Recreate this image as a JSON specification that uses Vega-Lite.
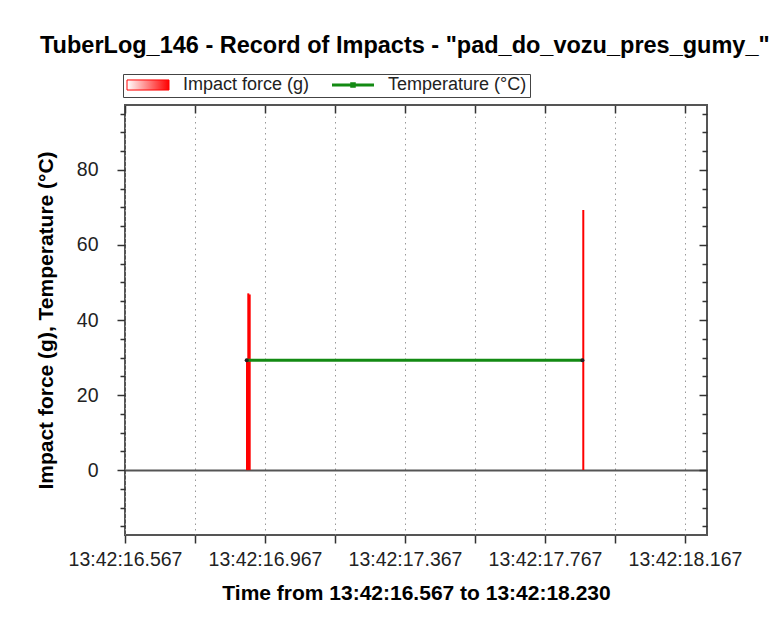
{
  "$schema": "https://vega.github.io/schema/vega-lite/v6.json",
  "width": 582,
  "height": 430,
  "autosize": {"type": "none"},
  "padding": {"left": 125, "top": 105, "right": 72, "bottom": 91},
  "background": "white",
  "title": {
    "text": "TuberLog_146 - Record of Impacts - \"pad_do_vozu_pres_gumy_\"",
    "anchor": "start",
    "frame": "group",
    "dx": -85,
    "font": "Liberation Sans",
    "fontSize": 23.5,
    "fontWeight": "bold",
    "color": "#000000",
    "offset": 16
  },
  "config": {
    "view": {"stroke": "#555555", "strokeWidth": 2},
    "axis": {"domain": false, "tickColor": "#333333", "tickWidth": 1.5}
  },
  "datasets": {
    "impacts": [
      {"time": 16.9156, "force": 29.5, "series": "Impact force (g)"},
      {"time": 16.9193, "force": 47.1, "series": "Impact force (g)"},
      {"time": 16.9233, "force": 46.8, "series": "Impact force (g)"},
      {"time": 17.8765, "force": 69.3, "series": "Impact force (g)"}
    ],
    "temperature": [
      {"time": 16.9147, "temp": 29.3, "series": "Temperature (°C)"},
      {"time": 17.874, "temp": 29.3, "series": "Temperature (°C)"}
    ]
  },
  "resolve": {"axis": {"x": "independent", "y": "independent"}},
  "layer": [
    {
      "data": {"name": "impacts"},
      "mark": {"type": "rule", "strokeWidth": 2},
      "encoding": {
        "x": {
          "field": "time",
          "type": "quantitative",
          "scale": {"domain": [16.567, 18.23], "nice": false, "zero": false},
          "axis": {
            "orient": "bottom",
            "values": [16.567, 16.767, 16.967, 17.167, 17.367, 17.567, 17.767, 17.967, 18.167],
            "labelExpr": "round((datum.value - 16.567) * 5) % 2 === 0 ? '13:42:' + format(datum.value, '.3f') : ''",
            "labelFlush": false,
            "labelOverlap": false,
            "labelFont": "Liberation Sans",
            "labelFontSize": 19.5,
            "labelColor": "#222222",
            "labelPadding": 7,
            "tickSize": 8,
            "grid": true,
            "gridColor": "#999999",
            "gridDash": [1.5, 4],
            "gridWidth": 1,
            "title": "Time from 13:42:16.567 to 13:42:18.230",
            "titleFont": "Liberation Sans",
            "titleFontSize": 21,
            "titleFontWeight": "bold",
            "titleColor": "#000000",
            "titlePadding": 14
          }
        },
        "y": {
          "field": "force",
          "type": "quantitative",
          "scale": {"domain": [-17.3, 97.3], "nice": false, "zero": false},
          "axis": {
            "orient": "left",
            "values": [-15, -10, -5, 0, 5, 10, 15, 20, 25, 30, 35, 40, 45, 50, 55, 60, 65, 70, 75, 80, 85, 90, 95],
            "labelExpr": "datum.value % 20 === 0 ? datum.label : ''",
            "labelFont": "Liberation Sans",
            "labelFontSize": 19.5,
            "labelColor": "#222222",
            "labelPadding": 19,
            "tickSize": {"condition": {"test": "datum.value % 20 === 0", "value": 8}, "value": 5},
            "grid": true,
            "gridColor": "#555555",
            "gridWidth": 2,
            "gridOpacity": {"condition": {"test": "datum.value === 0", "value": 1}, "value": 0},
            "title": "Impact force (g), Temperature (°C)",
            "titleFont": "Liberation Sans",
            "titleFontSize": 21,
            "titleFontWeight": "bold",
            "titleColor": "#000000",
            "titlePadding": 20
          }
        },
        "y2": {"datum": 0},
        "color": {
          "field": "series",
          "type": "nominal",
          "scale": {"domain": ["Impact force (g)", "Temperature (°C)"], "range": ["#ff0000", "#138a13"]},
          "legend": {
            "orient": "none",
            "legendX": -2,
            "legendY": -31,
            "direction": "horizontal",
            "title": null,
            "strokeColor": "#444444",
            "padding": 3,
            "symbolSize": 1764,
            "symbolOffset": 13,
            "clipHeight": 16,
            "columnPadding": 21,
            "labelOffset": 26,
            "labelFont": "Liberation Sans",
            "labelFontSize": 18,
            "labelColor": "#222222",
            "encode": {
              "symbols": {
                "update": {
                  "shape": {"signal": "datum.value === 'Impact force (g)' ? 'M-1,-0.24H1V0.24H-1Z' : 'M-1,0H1M-0.06,-0.06H0.06V0.06H-0.06Z'"},
                  "fill": {"signal": "datum.value === 'Impact force (g)' ? {gradient: 'linear', x1: 0, y1: 0, x2: 1, y2: 0, stops: [{offset: 0, color: '#ffffff'}, {offset: 1, color: '#ff0000'}]} : '#222222'"},
                  "stroke": {"signal": "datum.value === 'Impact force (g)' ? '#ff0000' : '#138a13'"},
                  "strokeWidth": {"signal": "datum.value === 'Impact force (g)' ? 1 : 3"},
                  "opacity": {"value": 1},
                  "fillOpacity": {"value": 1}
                }
              }
            }
          }
        }
      }
    },
    {
      "data": {"name": "temperature"},
      "mark": {"type": "line", "strokeWidth": 3},
      "encoding": {
        "x": {
          "field": "time",
          "type": "quantitative",
          "scale": {"domain": [16.567, 18.23], "nice": false, "zero": false},
          "axis": {
            "orient": "top",
            "values": [16.567, 16.767, 16.967, 17.167, 17.367, 17.567, 17.767, 17.967, 18.167],
            "labels": false,
            "title": null,
            "grid": false,
            "tickSize": -8
          }
        },
        "y": {
          "field": "temp",
          "type": "quantitative",
          "scale": {"domain": [-17.3, 97.3], "nice": false, "zero": false},
          "axis": {
            "orient": "right",
            "values": [-15, -10, -5, 0, 5, 10, 15, 20, 25, 30, 35, 40, 45, 50, 55, 60, 65, 70, 75, 80, 85, 90, 95],
            "labels": false,
            "title": null,
            "grid": false,
            "tickSize": {"condition": {"test": "datum.value % 20 === 0", "value": -8}, "value": -5}
          }
        },
        "color": {"field": "series", "type": "nominal"}
      }
    },
    {
      "data": {"name": "temperature"},
      "mark": {"type": "point", "filled": true, "color": "#222222", "size": 16, "opacity": 1},
      "encoding": {
        "x": {"field": "time", "type": "quantitative", "axis": null},
        "y": {"field": "temp", "type": "quantitative", "axis": null}
      }
    }
  ]
}
